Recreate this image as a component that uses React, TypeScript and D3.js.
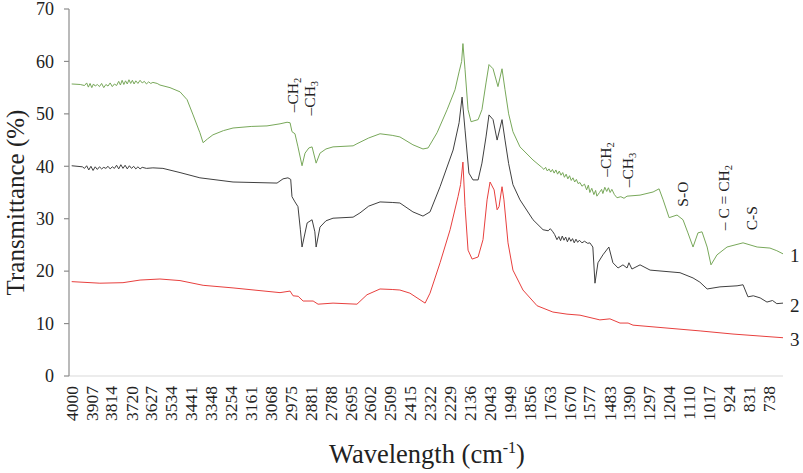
import * as d3 from "d3";

const W = 803;
const H = 473;

// x tick labels as printed (Excel category axis, every ~93 cm-1)
const xTickLabels = [
  4000, 3907, 3814, 3720, 3627, 3534, 3441, 3348, 3254, 3161, 3068, 2975, 2881,
  2788, 2695, 2602, 2509, 2415, 2322, 2229, 2136, 2043, 1949, 1856, 1763, 1670,
  1577, 1483, 1390, 1297, 1204, 1110, 1017, 924, 831, 738,
];
const yTicks = [0, 10, 20, 30, 40, 50, 60, 70];

// spectrum 1 (green): [wavenumber, transmittance]
const spectrum1: [number, number][] = [
  [4000, 55.7], [3960, 55.6], [3940, 55.4], [3930, 55.9], [3922, 55.1], [3914, 55.8],
  [3906, 55.0], [3898, 55.7], [3890, 55.3], [3880, 55.6], [3870, 55.2], [3860, 55.8],
  [3850, 55.0], [3840, 55.6], [3830, 55.3], [3820, 55.9], [3810, 55.2], [3800, 55.7],
  [3790, 55.4], [3780, 56.2], [3772, 55.5], [3764, 56.4], [3756, 55.6], [3748, 56.3],
  [3740, 55.7], [3732, 56.5], [3724, 55.8], [3716, 56.4], [3708, 55.7], [3700, 56.3],
  [3690, 55.8], [3680, 56.4], [3670, 55.9], [3660, 56.2], [3650, 55.7], [3640, 56.1],
  [3630, 55.8], [3620, 56.0], [3600, 55.8], [3587, 55.5], [3540, 55.0], [3493, 54.2],
  [3460, 52.7], [3432, 49.8], [3400, 46.4], [3385, 44.5], [3365, 45.2], [3339, 46.0],
  [3290, 46.8], [3245, 47.3], [3160, 47.6], [3086, 47.7], [3025, 48.1], [2992, 48.4],
  [2978, 48.3], [2969, 46.6], [2955, 46.2], [2941, 43.7], [2922, 40.1], [2908, 42.5],
  [2890, 43.5], [2875, 43.7], [2856, 40.6], [2838, 42.5], [2810, 43.3], [2777, 43.7],
  [2683, 43.9], [2665, 44.3], [2610, 45.4], [2557, 46.2], [2500, 45.9], [2464, 45.6],
  [2403, 44.1], [2356, 43.3], [2332, 43.5], [2290, 46.4], [2243, 50.8], [2206, 54.6],
  [2187, 58.0], [2175, 60.0], [2169, 63.4], [2159, 58.4], [2145, 50.8], [2131, 48.5],
  [2098, 48.9], [2080, 50.8], [2061, 55.9], [2047, 59.4], [2028, 58.6], [2005, 55.2],
  [1986, 58.6], [1972, 54.6], [1955, 50.0], [1935, 46.6], [1902, 43.7], [1841, 41.2],
  [1800, 39.8], [1790, 39.4], [1782, 39.8], [1774, 39.1], [1766, 39.5], [1758, 38.9],
  [1750, 39.4], [1742, 38.7], [1734, 39.3], [1726, 38.5], [1718, 39.1], [1710, 38.3],
  [1702, 38.8], [1694, 37.9], [1686, 38.5], [1678, 37.6], [1670, 38.2], [1662, 37.3],
  [1654, 37.8], [1646, 37.0], [1638, 37.5], [1630, 36.7], [1621, 36.9], [1612, 36.2],
  [1600, 36.6], [1590, 35.5], [1582, 36.4], [1575, 35.0], [1566, 35.8], [1556, 34.6],
  [1548, 35.4], [1542, 34.3], [1530, 35.0], [1520, 35.6], [1514, 34.8], [1505, 36.0],
  [1496, 35.2], [1488, 35.9], [1480, 35.0], [1472, 35.6], [1460, 34.6], [1448, 34.0],
  [1430, 34.2], [1415, 33.9], [1401, 34.3], [1340, 34.5], [1279, 35.1], [1251, 35.7],
  [1232, 33.6], [1204, 30.2], [1167, 30.7], [1139, 29.8], [1116, 27.3], [1092, 24.6],
  [1069, 27.3], [1050, 27.5], [1026, 24.6], [1008, 21.2], [980, 23.1], [933, 24.6],
  [858, 25.4], [792, 24.6], [732, 24.4], [700, 23.9], [671, 23.3],
];

// spectrum 2 (black)
const spectrum2: [number, number][] = [
  [4000, 40.1], [3950, 39.9], [3940, 39.6], [3930, 40.1], [3920, 39.3], [3910, 40.0],
  [3900, 39.2], [3890, 39.9], [3880, 39.4], [3870, 39.9], [3860, 39.5], [3850, 39.8],
  [3840, 39.6], [3830, 40.0], [3820, 39.5], [3810, 39.9], [3800, 39.6], [3790, 40.2],
  [3780, 39.5], [3770, 40.3], [3760, 39.6], [3750, 40.2], [3740, 39.5], [3730, 40.1],
  [3720, 39.6], [3710, 40.0], [3700, 39.5], [3690, 39.9], [3680, 39.5], [3670, 39.8],
  [3650, 39.6], [3620, 39.7], [3573, 39.6], [3493, 38.8], [3400, 37.8], [3245, 37.0],
  [3039, 36.8], [3011, 37.6], [2988, 37.8], [2975, 37.5], [2969, 34.2], [2955, 33.2],
  [2941, 32.3], [2930, 28.0], [2922, 24.6], [2898, 29.2], [2875, 29.8], [2862, 27.5],
  [2856, 24.6], [2838, 28.4], [2810, 29.6], [2777, 30.1], [2683, 30.3], [2651, 31.1],
  [2610, 32.4], [2557, 33.2], [2500, 33.1], [2464, 33.0], [2403, 31.3], [2356, 30.5],
  [2323, 31.3], [2276, 36.1], [2215, 43.1], [2187, 48.3], [2173, 53.2], [2159, 46.9],
  [2141, 38.7], [2122, 37.4], [2098, 37.4], [2080, 40.6], [2061, 45.6], [2047, 49.8],
  [2028, 48.9], [2009, 45.0], [1986, 48.9], [1972, 45.0], [1955, 40.5], [1935, 36.5],
  [1902, 33.6], [1841, 29.8], [1794, 27.9], [1770, 27.7], [1760, 28.1], [1748, 27.5],
  [1740, 27.0], [1729, 26.0], [1720, 26.6], [1712, 25.8], [1704, 26.7], [1696, 25.9],
  [1688, 26.5], [1680, 25.6], [1672, 26.4], [1664, 25.7], [1656, 26.2], [1648, 25.4],
  [1640, 26.1], [1632, 25.5], [1624, 25.9], [1612, 25.4], [1600, 25.7], [1585, 25.3],
  [1575, 25.4], [1561, 24.6], [1551, 17.7], [1537, 21.6], [1514, 23.1], [1486, 24.6],
  [1467, 21.6], [1443, 20.6], [1420, 21.2], [1401, 20.6], [1392, 21.6], [1378, 20.4],
  [1340, 21.2], [1293, 20.2], [1153, 19.7], [1092, 18.7], [1060, 17.9], [1026, 16.6],
  [966, 17.0], [886, 17.2], [858, 17.4], [835, 15.1], [810, 15.3], [778, 14.9],
  [746, 14.1], [720, 14.4], [700, 13.8], [671, 13.9],
];

// spectrum 3 (red)
const spectrum3: [number, number][] = [
  [4000, 18.0], [3868, 17.7], [3760, 17.8], [3680, 18.3], [3587, 18.5], [3493, 18.2],
  [3385, 17.3], [3245, 16.8], [3025, 15.9], [2978, 16.2], [2964, 15.3], [2940, 15.2],
  [2917, 14.3], [2870, 14.3], [2847, 13.7], [2777, 13.9], [2665, 13.7], [2618, 15.5],
  [2557, 16.6], [2500, 16.5], [2464, 16.4], [2417, 15.8], [2346, 13.9], [2323, 15.8],
  [2276, 21.6], [2229, 27.9], [2192, 34.2], [2180, 36.5], [2169, 40.8], [2159, 32.3],
  [2145, 24.0], [2126, 22.3], [2098, 22.7], [2075, 26.0], [2056, 33.6], [2042, 37.0],
  [2023, 35.5], [2009, 31.7], [2000, 32.3], [1986, 36.1], [1977, 33.6], [1958, 25.4],
  [1935, 20.2], [1888, 16.4], [1822, 13.4], [1748, 12.2], [1682, 11.8], [1621, 11.6],
  [1528, 10.7], [1481, 10.9], [1434, 10.1], [1396, 10.1], [1373, 9.7], [1059, 8.6],
  [905, 8.0], [671, 7.3],
];

const spectra = [
  { name: "1", values: spectrum1, color: "#78a85a" },
  { name: "2", values: spectrum2, color: "#404040" },
  { name: "3", values: spectrum3, color: "#e8403e" },
];

// peak assignments: text, subscript, wavenumber and transmittance where the text starts
const peakLabels = [
  { text: "–CH", sub: "2", w: 2940, v: 50.3 },
  { text: "–CH", sub: "3", w: 2860, v: 49.7 },
  { text: "–CH", sub: "2", w: 1477, v: 38.0 },
  { text: "–CH", sub: "3", w: 1375, v: 36.0 },
  { text: "S-O", sub: "", w: 1117, v: 32.3 },
  { text: "– C = CH", sub: "2", w: 922, v: 27.8 },
  { text: "C-S", sub: "", w: 795, v: 27.8 },
];

const serif = "Liberation Serif";

export default function App() {
  const x = d3.scaleLinear().domain([4000, 671]).range([71.7, 783]);
  const y = d3.scaleLinear().domain([0, 70]).range([376, 9]);

  const line = d3
    .line<[number, number]>()
    .x((d) => x(d[0]))
    .y((d) => y(d[1]));

  return (
    <svg
      width={W}
      height={H}
      style={{ position: "absolute", left: 0, top: 0, background: "#fff", fontFamily: serif }}
    >
      {/* x axis line */}
      <line x1={69} x2={783} y1={y(0)} y2={y(0)} stroke="#d9d9d9" strokeWidth={1.2} />

      {/* y axis */}
      <line x1={69} x2={69} y1={y(0)} y2={y(70)} stroke="#8c8c8c" strokeWidth={1.2} />
      {yTicks.map((t) => (
        <g key={t} transform={`translate(0,${y(t)})`}>
          <line x1={64} x2={69} stroke="#8c8c8c" strokeWidth={1.2} />
          <text x={54} dy="0.35em" textAnchor="end" fontSize={18} fill="#222" style={{ fontFamily: serif }}>
            {t}
          </text>
        </g>
      ))}

      {/* x tick labels */}
      {xTickLabels.map((t) => (
        <text
          key={t}
          transform={`translate(${x(t) + 6},386) rotate(-90)`}
          textAnchor="end"
          fontSize={17.5}
          fill="#222"
          style={{ fontFamily: serif }}
        >
          {t}
        </text>
      ))}

      {/* spectra */}
      {spectra.map((s) => (
        <path
          key={s.name}
          d={line(s.values) ?? ""}
          fill="none"
          stroke={s.color}
          strokeWidth={1}
          strokeLinejoin="round"
        />
      ))}

      {/* curve numbers */}
      {spectra.map((s) => (
        <text
          key={s.name}
          x={790}
          y={y(s.values[s.values.length - 1][1])}
          dy="0.45em"
          fontSize={19}
          fill="#222"
          style={{ fontFamily: serif }}
        >
          {s.name}
        </text>
      ))}

      {/* peak assignments */}
      {peakLabels.map((p, i) => (
        <text
          key={i}
          transform={`translate(${x(p.w)},${y(p.v)}) rotate(-90)`}
          fontSize={15.5}
          fill="#222"
          style={{ fontFamily: serif }}
        >
          {p.text}
          {p.sub && (
            <tspan fontSize={10.5} dy={3}>
              {p.sub}
            </tspan>
          )}
        </text>
      ))}

      {/* axis titles */}
      <text
        transform={`translate(24,${(y(0) + y(70)) / 2 + 10}) rotate(-90)`}
        textAnchor="middle"
        fontSize={25}
        fill="#222"
        style={{ fontFamily: serif }}
      >
        Transmittance (%)
      </text>
      <text x={427} y={463} textAnchor="middle" fontSize={26.5} fill="#222" style={{ fontFamily: serif }}>
        Wavelength (cm
        <tspan fontSize={16} dy={-10}>
          -1
        </tspan>
        <tspan dy={10}>)</tspan>
      </text>
    </svg>
  );
}
